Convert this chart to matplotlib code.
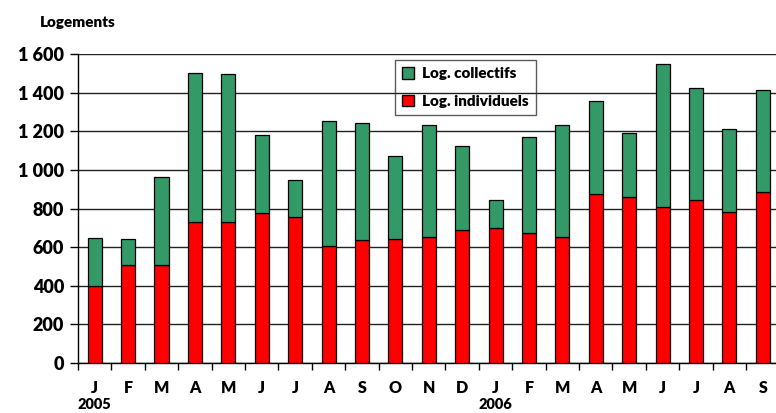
import matplotlib.pyplot as plt
import numpy as np
from matplotlib.patches import Patch

plt.rcParams['font.family'] = ['Lato', 'DejaVu Sans']
plt.rcParams['font.weight'] = 'heavy'

# data
months = ["J", "F", "M", "A", "M", "J", "J", "A", "S", "O", "N", "D",
          "J", "F", "M", "A", "M", "J", "J", "A", "S"]
individuels = [400, 510, 510, 728, 728, 776, 756, 605, 635, 643, 652, 688,
               700, 673, 652, 876, 859, 807, 845, 783, 887]
totals = [648, 640, 963, 1502, 1497, 1182, 949, 1255, 1241, 1072, 1234, 1124,
          846, 1172, 1232, 1357, 1191, 1548, 1422, 1212, 1414]
collectifs = [t - i for t, i in zip(totals, individuels)]
year_labels = [(0, "2005"), (12, "2006")]
y_ticks = [0, 200, 400, 600, 800, 1000, 1200, 1400, 1600]
y_labels = ["0", "200", "400", "600", "800", "1 000", "1 200", "1 400", "1 600"]

GREEN = "#339966"
RED = "#ff0000"

fig = plt.figure(figsize=(7.76, 4.13), dpi=100)
ax = fig.add_axes([0.1005, 0.121, 0.904, 0.748])

x = np.arange(len(months))

ax.bar(x, individuels, width=0.42, color=RED, edgecolor="black",
       linewidth=0.9, zorder=3)
ax.bar(x, collectifs, width=0.42, bottom=individuels, color=GREEN,
       edgecolor="black", linewidth=0.9, zorder=3)

ax.set_xlim(-0.5, len(months) - 0.5)
ax.set_ylim(0, 1600)

ax.set_yticks(y_ticks)
ax.set_yticklabels(y_labels, fontsize=13, fontweight="heavy")
ax.yaxis.grid(True, color="#222222", linewidth=1.0, zorder=0)

# ticks between categories, labels at the centres
ax.set_xticks(np.arange(-0.5, len(months)), minor=False)
ax.set_xticklabels([])
ax.set_xticks(x, minor=True)
ax.set_xticklabels(months, minor=True, fontsize=11.5, fontweight="heavy")
ax.tick_params(axis="x", which="major", length=5, width=1, direction="out")
ax.tick_params(axis="x", which="minor", length=0, pad=12)
ax.tick_params(axis="y", length=6, width=1, direction="out", pad=4)

for side in ["top", "right"]:
    ax.spines[side].set_visible(False)
ax.spines["left"].set_linewidth(1.0)
ax.spines["bottom"].set_linewidth(1.0)

for idx, label in year_labels:
    ax.text(idx, -0.135, label, transform=ax.get_xaxis_transform(),
            ha="center", va="center", fontsize=10.5, fontweight="heavy")

fig.text(0.052, 0.945, "Logements", fontsize=11, fontweight="heavy",
         ha="left", va="center")

handles = [Patch(facecolor=GREEN, edgecolor="black", label="Log. collectifs"),
           Patch(facecolor=RED, edgecolor="black", label="Log. individuels")]
leg = fig.legend(handles=handles, loc="upper left",
                 bbox_to_anchor=(395 / 776, 1 - 60 / 413),
                 frameon=True, fancybox=False, facecolor="none",
                 edgecolor="#333333", prop={"weight": "heavy", "size": 11},
                 handlelength=0.8, handleheight=0.8, handletextpad=0.55,
                 labelspacing=0.95, borderpad=0.45, borderaxespad=0)
leg.get_frame().set_linewidth(1.0)

fig.savefig("out.png", dpi=100)
